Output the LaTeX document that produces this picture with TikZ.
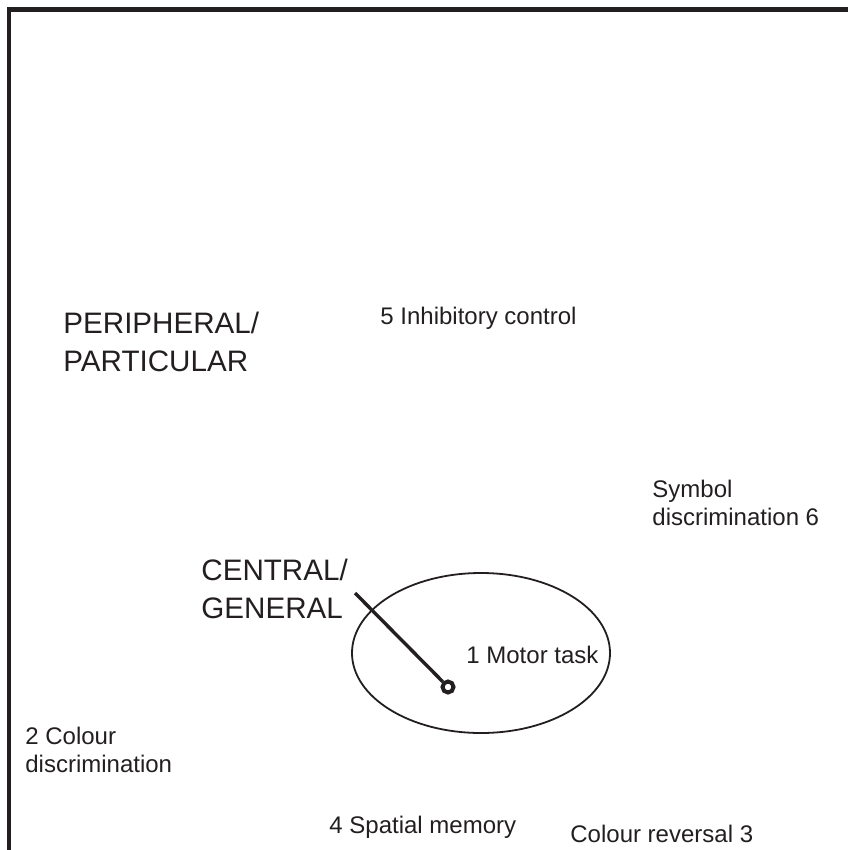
\documentclass[tikz,border=0pt]{standalone}
\usepackage{fontspec}
\setmainfont{Liberation Sans}
\usepackage{tikz}
\usetikzlibrary{shapes.geometric, positioning}
\definecolor{ink}{HTML}{231F20}
\tikzset{
    every node/.style={text=ink, inner sep=0pt}, % plain text labels
    task/.style={anchor=base west, align=left, font=\fontsize{12}{14}\selectfont}, % the six tasks
    pole/.style={anchor=base west, align=left, font=\fontsize{14.8}{18.8}\selectfont}, % the two big labels
    frame/.style={draw=ink, line width=2.4pt}, % the border
}

\begin{document}
\begin{tikzpicture}[x=0.5pt, y=-0.5pt]
                            \useasboundingbox (0,0) rectangle (847,850);
                            \coordinate (fb) at (9,860);
                            \coordinate (fc) at (9,9.5);
                            \coordinate (fr) at (860,9.5);
                            \draw[frame] (fb) -- (fc) -- (fr);
                            \node[pole] (periph) at (63,371) {PERIPHERAL/\\PARTICULAR};
                            \node[pole] (central) at (201,618) {CENTRAL/\\GENERAL};
                            \node[draw=ink, line width=0.9pt, ellipse, minimum width=129pt, minimum height=80pt] (core) at (481,653) {};
                            \node[task] (t1) at (466,663) {1 Motor task};
                            \node[task] (t2) at (25,772) {2 Colour\\discrimination};
                            \node[task] (t3) at (570,842) {Colour reversal 3};
                            \node[task] (t4) at (329,833) {4 Spatial memory};
                            \node[task] (t5) at (380,324) {5 Inhibitory control};
                            \node[task] (t6) at (652,525) {Symbol\\discrimination 6};
                            \node[circle, draw=ink, line width=2pt, minimum size=5.5pt] (dot) at (448,687) {};
                            \coordinate (tail) at (355,593);
                            \draw[ink, line width=1.7pt] (tail) -- (dot);
                        \end{tikzpicture}
\end{document}
